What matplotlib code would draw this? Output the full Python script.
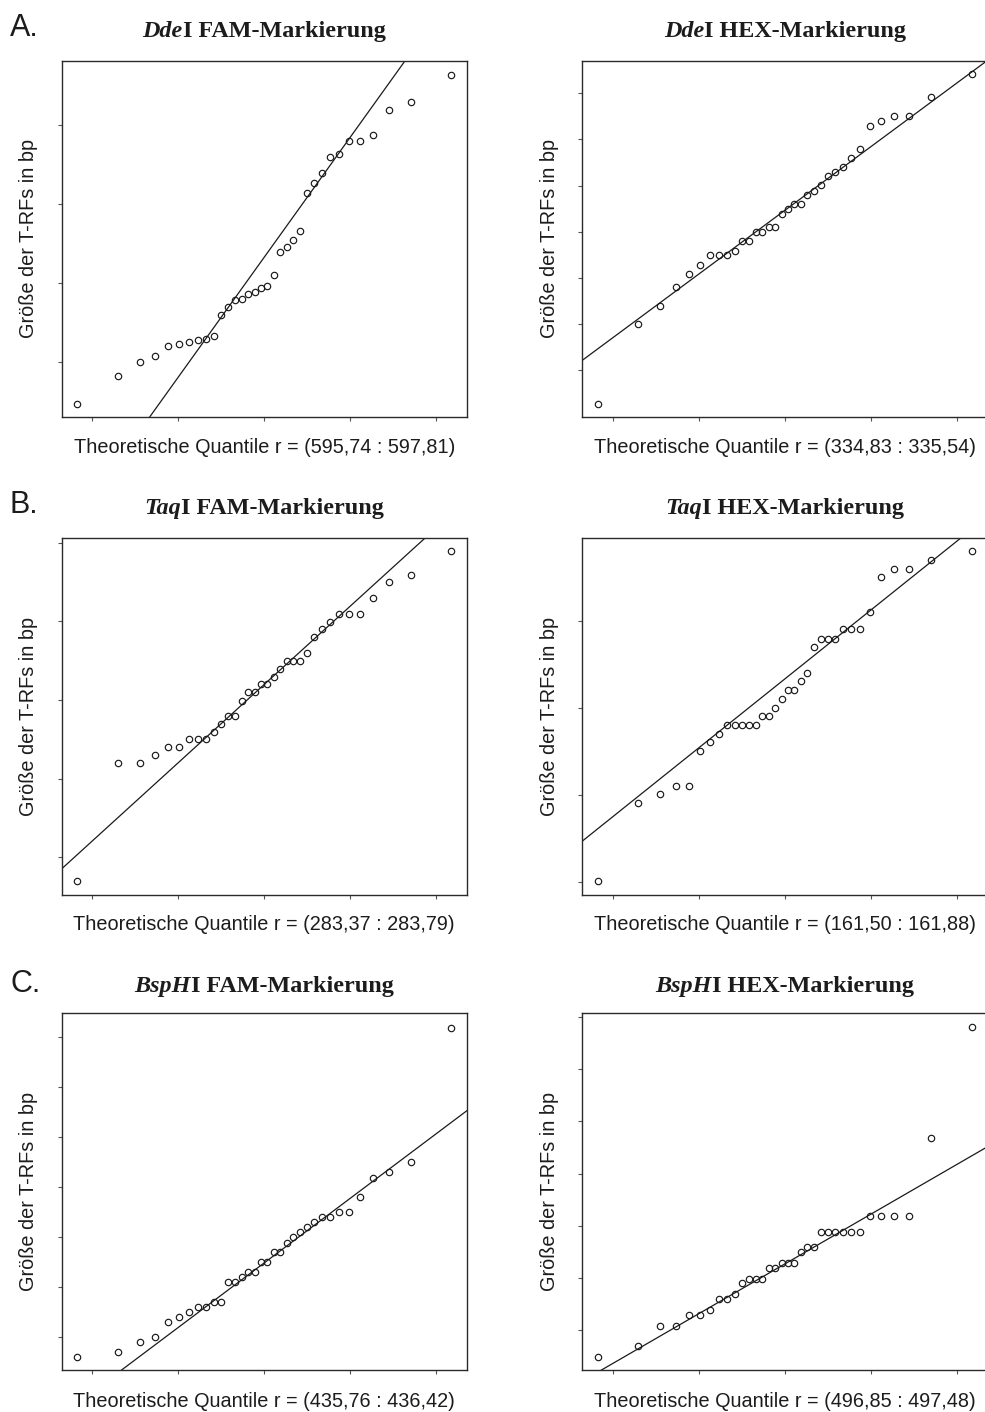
import matplotlib
matplotlib.use("Agg")
import matplotlib.pyplot as plt

W, H = 985, 1412

# theoretical normal quantiles (n = 34), read from the x positions
quantiles = [-2.178, -1.705, -1.450, -1.265, -1.115, -0.987, -0.873, -0.770, -0.674,
             -0.584, -0.499, -0.417, -0.338, -0.261, -0.186, -0.111, -0.037, 0.037,
             0.111, 0.186, 0.261, 0.338, 0.417, 0.499, 0.584, 0.674, 0.770, 0.873,
             0.987, 1.115, 1.265, 1.450, 1.705, 2.178]

dde_fam = [46.0, 81.9, 100.0, 107.2, 120.3, 122.4, 124.9, 127.0, 129.1, 132.9, 158.6,
           168.8, 178.1, 178.9, 185.7, 188.6, 193.7, 195.8, 209.7, 239.2, 245.6, 254.0,
           265.4, 313.9, 326.6, 338.8, 359.1, 362.9, 379.3, 379.3, 387.3, 418.1, 428.7,
           463.3]
dde_hex = [64.0, 149.7, 169.9, 190.1, 204.2, 214.6, 224.4, 224.4, 224.4, 229.1, 239.9,
           239.9, 249.6, 249.6, 255.0, 255.0, 269.4, 274.5, 280.2, 280.2, 290.0, 294.7,
           300.8, 310.2, 314.9, 319.9, 330.0, 339.7, 364.6, 370.4, 375.4, 375.4, 395.6,
           420.5]
taq_fam = [70.3, 220.3, 220.3, 229.7, 239.8, 239.8, 250.0, 250.0, 250.0, 259.7, 269.9,
           280.1, 280.1, 299.2, 309.7, 309.7, 319.9, 319.9, 329.7, 339.0, 349.6, 349.6,
           349.6, 359.3, 379.7, 389.8, 398.7, 409.3, 409.3, 409.3, 429.2, 449.6, 458.5,
           489.0]
taq_hex = [100.4, 190.4, 200.8, 210.0, 210.0, 250.0, 260.4, 270.4, 280.8, 280.8, 280.8,
           280.8, 280.8, 290.8, 290.8, 300.0, 310.4, 320.4, 320.4, 330.8, 340.0, 370.4,
           380.0, 380.0, 380.0, 390.4, 390.4, 390.4, 410.8, 450.4, 459.6, 459.6, 470.0,
           480.4]
bsp_fam = [79.6, 85.0, 94.7, 100.0, 114.4, 119.7, 125.1, 129.4, 129.4, 135.1, 135.1,
           154.4, 154.4, 159.8, 164.8, 164.8, 174.8, 174.8, 184.5, 184.5, 194.2, 200.2,
           204.9, 209.9, 214.9, 219.6, 219.6, 224.6, 224.6, 240.0, 259.3, 264.7, 274.7,
           409.6]
bsp_hex = [74.8, 85.0, 104.5, 104.5, 114.7, 114.7, 119.8, 129.6, 129.6, 134.4, 145.3,
           149.1, 149.1, 149.1, 159.6, 159.6, 164.7, 164.7, 164.7, 174.6, 180.0, 180.0,
           194.4, 194.4, 194.4, 194.4, 194.4, 194.4, 209.7, 209.7, 209.7, 209.7, 284.3,
           389.8]

# reference lines (intercept, slope)
line_params = [(232.2, 151.8), (273.2, 68.9), (319.7, 99.5),
               (333.4, 79.3), (173.9, 64.7), (163.5, 47.56)]

titles_ital = ["Dde", "Dde", "Taq", "Taq", "BspH", "BspH"]
titles_rest = ["I FAM-Markierung", "I HEX-Markierung", "I FAM-Markierung",
               "I HEX-Markierung", "I FAM-Markierung", "I HEX-Markierung"]
xlabels = ["Theoretische Quantile r = (595,74 : 597,81)",
           "Theoretische Quantile r = (334,83 : 335,54)",
           "Theoretische Quantile r = (283,37 : 283,79)",
           "Theoretische Quantile r = (161,50 : 161,88)",
           "Theoretische Quantile r = (435,76 : 436,42)",
           "Theoretische Quantile r = (496,85 : 497,48)"]
ylabel = "Größe der T-RFs in bp"
panel_letters = ["A.", "B.", "C."]
xticks = [-2, -1, 0, 1, 2]
yticks_list = [[100, 200, 300, 400],
               [100, 150, 200, 250, 300, 350, 400],
               [100, 200, 300, 400, 500],
               [100, 200, 300, 400],
               [100, 150, 200, 250, 300, 350, 400],
               [100, 150, 200, 250, 300, 350, 400]]
ylims = [(30.4, 480.6), (49.9, 434.9), (52.1, 505.5),
         (84.6, 495.4), (66.6, 424.0), (62.1, 403.2)]
series = [dde_fam, dde_hex, taq_fam, taq_hex, bsp_fam, bsp_hex]

# layout in pixels
col_left = [61.7, 582.3]
ax_w = 405.0
row_top = [61.0, 538.3, 1013.3]
row_bot = [416.7, 895.0, 1370.0]
title_base = [37.3, 514.3, 991.7]
xlab_base = [453.3, 930.0, 1407.0]
letter_base = [35.7, 513.3, 991.7]

TXT = "#1c1c1c"
SANS = ["Liberation Sans", "DejaVu Sans"]
SERIF = ["Liberation Serif", "DejaVu Serif"]

fig = plt.figure(figsize=(W / 100, H / 100), dpi=100)
fig.patch.set_facecolor("white")
renderer = fig.canvas.get_renderer()

for k in range(6):
    r, c = divmod(k, 2)
    left = col_left[c]
    top, bot = row_top[r], row_bot[r]
    ax = fig.add_axes([left / W, 1 - bot / H, ax_w / W, (bot - top) / H])
    ax.plot(quantiles, series[k], "o", mfc="none", mec="#1a1a1a", ms=4.6, mew=0.85,
            zorder=3)
    b0, b1 = line_params[k]
    ax.axline((0, b0), slope=b1, color="#1a1a1a", lw=0.9, zorder=2)
    ax.set_xlim(-2.355, 2.355)
    ax.set_ylim(*ylims[k])
    ax.set_xticks(xticks)
    ax.set_yticks(yticks_list[k])
    ax.set_xticklabels([])
    ax.set_yticklabels([])
    ax.tick_params(direction="out", length=3, width=0.8, color="#555555")
    for s in ax.spines.values():
        s.set_color("#2a2a2a")
        s.set_linewidth(1.0)

    cx = left + ax_w / 2
    cy = (top + bot) / 2
    # x label
    fig.text(cx / W, 1 - xlab_base[r] / H, xlabels[k], ha="center", va="baseline",
             fontsize=14.3, family=SANS, color=TXT)
    # y label
    fig.text((left - 33.0) / W, 1 - cy / H, ylabel, ha="center", va="center",
             rotation=90, fontsize=14.3, family=SANS, color=TXT)
    # title: italic part + upright part
    yb = 1 - title_base[r] / H
    t1 = fig.text(0, yb, titles_ital[k], ha="left", va="baseline", fontsize=17.4,
                  family=SERIF, fontweight="bold", fontstyle="italic", color=TXT)
    t2 = fig.text(0, yb, titles_rest[k], ha="left", va="baseline", fontsize=17.4,
                  family=SERIF, fontweight="bold", color=TXT)
    w1 = t1.get_window_extent(renderer).width
    w2 = t2.get_window_extent(renderer).width
    x0 = cx - (w1 + w2) / 2
    t1.set_x(x0 / W)
    t2.set_x((x0 + w1) / W)

for r in range(3):
    fig.text(10 / W, 1 - letter_base[r] / H, panel_letters[r], ha="left",
             va="baseline", fontsize=22, family=SANS, color=TXT)

fig.savefig("out.png", dpi=100, facecolor="white")
